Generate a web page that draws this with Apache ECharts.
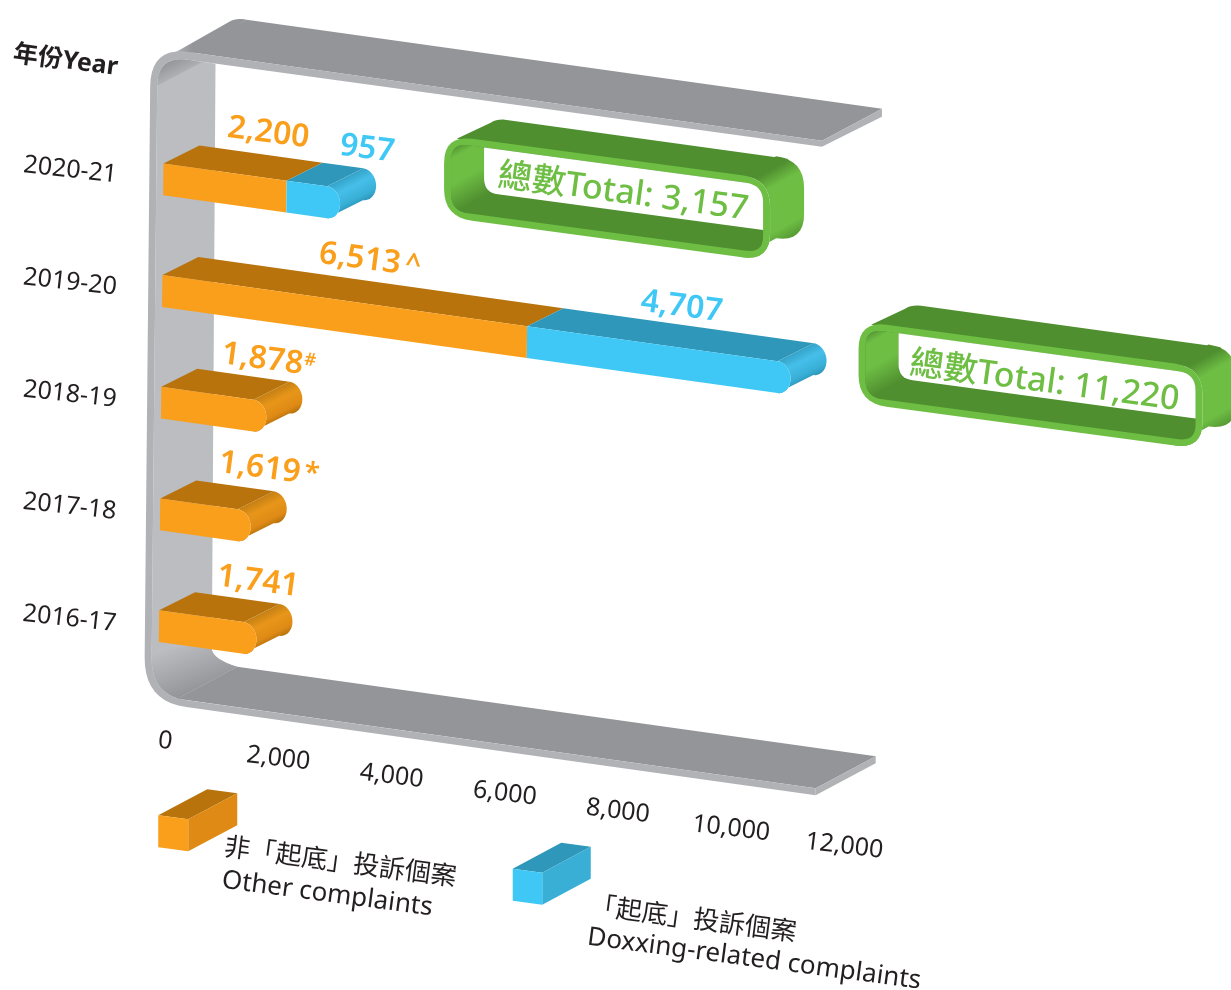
<!DOCTYPE html>
<html>
<head>
<meta charset="utf-8">
<title>Complaints by year</title>
<style>
  html, body { margin: 0; padding: 0; background: #fff; }
  #chart { width: 1231px; height: 990px; }
</style>
<script src="https://cdn.jsdelivr.net/npm/echarts@6/dist/echarts.min.js"></script>
</head>
<body>
<div id="chart"></div>
<script>
// Chart values
const years = ['2020-21', '2019-20', '2018-19', '2017-18', '2016-17'];
const otherComplaints = [2200, 6513, 1878, 1619, 1741];
const doxxingComplaints = [957, 4707, null, null, null];
const yearTotals = [3157, 11220];
const otherNotes = ['', '^', '#', '*', ''];
const tickValues = [0, 2000, 4000, 6000, 8000, 10000, 12000];
const yearHeading = '年份Year';
const totalPrefix = '總數Total: ';
const otherLegend = ['非「起底」投訴個案', 'Other complaints'];
const doxxingLegend = ['「起底」投訴個案', 'Doxxing-related complaints'];

// Palette
const ORANGE = { front: '#FA9F1C', top: '#B8730D', side: '#DE8A15', capMid: '#E8961A', capEdge: '#C07C12' };
const BLUE = { front: '#3FC8F6', top: '#2E97BA', side: '#39AFD6', capMid: '#45BFEA', capEdge: '#349FC4' };
const GREY = { face: '#939598', edge: '#B1B2B6', wall: '#BBBDC1', dark: '#96979A' };
const GREEN = { light: '#6EBE44', dark: '#4F8F2F' };
const INK = '#231F20';
const FONT = '"Noto Sans","Noto Sans CJK TC",sans-serif';

// Oblique view: every plotted point is sheared from the flat cartesian grid
const SHEAR_Y = 0.14;
const SHEAR_X = -0.00967;
const TEXT_ANGLE = -0.132;
const BAR_HALF = 15.9;
const BAR_DEPTH = [36, -18];
const CAP_RX = 13;

const add = (p, q) => [p[0] + q[0], p[1] + q[1]];
const along = (p, n) => [p[0] + n, p[1] + n * SHEAR_Y];
const down = (p, n) => [p[0] + n * SHEAR_X, p[1] + n];

function project(api, value, row) {
  const o = api.coord([0, 0]);
  const p = api.coord([value, row]);
  return [p[0] + SHEAR_X * (p[1] - o[1]), p[1] + SHEAR_Y * (p[0] - o[0])];
}

function curve(a, c, b, n) {
  const pts = [];
  const steps = n || 10;
  for (let i = 0; i <= steps; i++) {
    const t = i / steps, s = 1 - t;
    pts.push([s * s * a[0] + 2 * s * t * c[0] + t * t * b[0],
              s * s * a[1] + 2 * s * t * c[1] + t * t * b[1]]);
  }
  return pts;
}

const poly = (points, fill) => ({ type: 'polygon', shape: { points }, style: { fill } });
const grad = (a, b, stops) => new echarts.graphic.LinearGradient(
  a[0], a[1], b[0], b[1],
  stops.map(s => ({ offset: s[0], color: s[1] })), true);

function label(text, p, size, fill, opts) {
  const o = opts || {};
  return {
    type: 'text', x: p[0], y: p[1], rotation: o.rotation === undefined ? TEXT_ANGLE : o.rotation,
    style: {
      text, fill, fontSize: size, fontFamily: FONT, fontWeight: o.weight || 400,
      align: 'center', verticalAlign: 'middle'
    }
  };
}

// One stretch of a bar, with a rounded end when it is the last one in its row
function barPiece(api, from, to, row, colors, rounded) {
  const start = project(api, from, row);
  const end = project(api, to, row);
  const topStart = down(start, -BAR_HALF);
  const botStart = down(start, BAR_HALF);
  const parts = [];
  if (!rounded) {
    const topEnd = down(end, -BAR_HALF);
    const botEnd = down(end, BAR_HALF);
    parts.push(poly([topStart, add(topStart, BAR_DEPTH), add(topEnd, BAR_DEPTH), topEnd], colors.top));
    parts.push(poly([topStart, topEnd, botEnd, botStart], colors.front));
    return parts;
  }
  const centre = along(end, -CAP_RX);
  const arc = [];
  for (let i = 0; i <= 24; i++) {
    const a = -Math.PI / 2 + Math.PI * i / 24;
    const dx = CAP_RX * Math.cos(a);
    arc.push(down(along(centre, dx), BAR_HALF * Math.sin(a)));
  }
  const arcBack = arc.map(p => add(p, BAR_DEPTH)).reverse();
  const mid = add(centre, [BAR_DEPTH[0] / 2, BAR_DEPTH[1] / 2]);
  parts.push(poly([topStart, add(topStart, BAR_DEPTH), add(arc[0], BAR_DEPTH), arc[0]], colors.top));
  parts.push(poly(arc.concat(arcBack), grad(
    [mid[0] - 7, mid[1] - 14], [mid[0] + 7, mid[1] + 14],
    [[0, colors.capEdge], [0.4, colors.capMid], [0.8, colors.side], [1, colors.top]])));
  parts.push(poly([topStart].concat(arc, [botStart]), colors.front));
  return parts;
}

// Grey channel that holds the year rows
function renderFrame(params, api) {
  const D = [60, -32];
  const vL = -250, vR = 11740, rT = -1.17, rB = 4.69;
  const TL = project(api, vL, rT), TR = project(api, vR, rT);
  const BL = project(api, vL, rB), BR = project(api, vR, rB);
  const t = 7, tTop = 8;
  const ITL = down(along(TL, t), tTop), IBL = down(along(BL, t), -t);
  const ITR = down(TR, 6), IBR = down(BR, -t);
  const r2 = 30;
  const children = [];

  // Upper wall seen from above
  const a = along(TL, 21), b = along(TL, 36);
  children.push(poly([b, add(b, D), add(TR, D), TR], GREY.face));
  children.push(poly(
    [down(a, 5)].concat(curve(add(a, [60, -29]), add(along(TL, 29), [60, -33]), add(b, D), 6), [down(b, 5)]),
    grad(add(a, [0, -8]), add(b, [6, -6]), [[0, '#B8B9BD'], [1, GREY.face]])));

  // Inner face of the left wall
  const wallTop = down(along(TL, 65), 8);
  const wallLow = down(along(BL, 67), -61);
  const bend = add(BL, [69, -42]);
  const backStart = add(down(along(BL, 33), -t), D);
  const floorFront = down(along(BL, 33), -t);
  const innerTopArc = curve(down(ITL, r2), ITL, along(ITL, r2));
  const innerBotArc = curve(along(IBL, r2 + 4), IBL, down(IBL, -r2 - 8));
  children.push(poly(
    innerTopArc.concat([wallTop, wallLow], curve(wallLow, bend, backStart, 8), [floorFront], innerBotArc),
    GREY.wall));

  // Shaded inner corners
  children.push(poly(
    innerTopArc.concat([down(along(ITL, r2 + 15), 0)]),
    grad(add(ITL, [22, 2]), add(ITL, [32, 22]), [[0, GREY.dark], [1, GREY.wall]])));
  const slopeStart = down(IBL, -41);
  const slopeEnd = [wallLow[0], wallLow[1] - 10];
  children.push(poly(
    [slopeStart, slopeEnd, wallLow].concat(curve(wallLow, bend, backStart, 8), [floorFront], innerBotArc.slice(0, -1)),
    grad(add(slopeStart, [16, -6]), add(floorFront, [8, -4]), [[0, GREY.wall], [1, GREY.face]])));

  // Lower wall
  children.push(poly([floorFront, backStart, add(IBR, D), IBR], GREY.face));

  // Cut edge running round the whole channel
  const outer = [TR].concat(
    curve(along(TL, 38), TL, down(TL, 40)),
    curve(down(BL, -44), BL, along(BL, 42)),
    [BR]);
  const inner = [IBR].concat(
    curve(along(IBL, r2 + 4), IBL, down(IBL, -r2 - 8)),
    curve(down(ITL, r2), ITL, along(ITL, r2)),
    [ITR]);
  children.push(poly(outer.concat(inner), GREY.edge));
  children.push(poly([TR, add(TR, D), add(ITR, [60, -30]), ITR], GREY.edge));
  children.push(poly([IBR, add(IBR, D), add(BR, D), BR], GREY.edge));

  return { type: 'group', children };
}

function renderOther(params, api) {
  const row = api.value(1);
  const i = params.dataIndex;
  return {
    type: 'group',
    children: barPiece(api, 0, api.value(0), row, ORANGE, doxxingComplaints[i] == null)
  };
}

function renderDoxxing(params, api) {
  return {
    type: 'group',
    children: barPiece(api, api.value(0), api.value(1), api.value(2), BLUE, true)
  };
}

// Value labels sit where they read best above each bar
const otherLabelOffset = [[-18, -63.5], [-167, -83], [-4, -58], [9, -59], [1.5, -58]];
const doxxingLabelOffset = [[27, -55], [-109, -72]];
const noteStyle = { '^': { at: [53, 6], size: 28 }, '#': { at: [48, 1], size: 18 }, '*': { at: [52, 6], size: 28 } };
const fmt = n => n.toLocaleString('en-US');

function renderOtherLabel(params, api) {
  const v = api.value(0), row = api.value(1), i = params.dataIndex;
  const base = add(project(api, v, row), otherLabelOffset[i]);
  const children = [label(fmt(v), base, 32, ORANGE.front, { weight: 600 })];
  const note = otherNotes[i];
  if (note) {
    const s = noteStyle[note];
    children.push(label(note, add(base, s.at), s.size, ORANGE.front, { weight: 600 }));
  }
  return { type: 'group', children };
}

function renderDoxxingLabel(params, api) {
  const v = api.value(1), i = params.dataIndex;
  const base = add(project(api, v, api.value(2)), doxxingLabelOffset[i]);
  return label(fmt(v - api.value(0)), base, 32, BLUE.front, { weight: 600 });
}

// Rounded rectangle laid out along the sheared axes
function roundedBox(o, w, h, r) {
  const pt = (x, y) => [o[0] + x, o[1] + y + x * 0.135];
  return {
    pt,
    points: [].concat(
      curve(pt(0, r), pt(0, 0), pt(r, 0), 8),
      curve(pt(w - r, 0), pt(w, 0), pt(w, r), 8),
      curve(pt(w, h - r), pt(w, h), pt(w - r, h), 8),
      curve(pt(r, h), pt(0, h), pt(0, h - r), 8))
  };
}

const totalBox = [
  { offset: [104, -69], width: 326, height: 82, text: [6, -5] },
  { offset: [68, -58], width: 344, height: 82, text: [4, -3] }
];

function renderTotal(params, api) {
  const total = api.value(0), row = api.value(1), i = params.dataIndex;
  const cfg = totalBox[i];
  const O = add(project(api, total, row), cfg.offset);
  const W = cfg.width, H = cfg.height, D = [34, -19];
  const R = 28, T = 7;
  const out = roundedBox(O, W, H, R);
  const inO = [O[0] + T, O[1] + T + T * 0.135];
  const iw = W - 2 * T, ih = H - 2 * T, ir = 17;
  const ins = roundedBox(inO, iw, ih, ir);
  const children = [];

  // Outer shell
  const A = out.pt(R * 0.45, 2), B = out.pt(W - R * 0.55, 1);
  const A2 = out.pt(R * 0.45 + 16, 0);
  children.push(poly(
    [A].concat(curve(add(A, [34, -16]), add(out.pt(R * 0.45 + 6, 0), D), add(A2, D), 5), [add(B, D), B]),
    GREEN.dark));
  const sideFront = [].concat(
    curve(out.pt(W - R, 0), out.pt(W, 0), out.pt(W, R), 8),
    curve(out.pt(W, H - R), out.pt(W, H), out.pt(W - R, H), 8));
  const sideBack = sideFront.map(p => add(p, D)).reverse();
  const sideA = out.pt(W - 10, -2);
  const sideB = add(sideA, [36, 64]);
  children.push(poly(sideFront.concat(sideBack), grad(sideA, sideB, [
    [0, GREEN.dark], [0.22, GREEN.light], [0.76, GREEN.light], [1, GREEN.dark]])));

  // Front ring and the hollow behind it
  children.push(poly(out.points, GREEN.light));
  children.push(poly(ins.points, GREEN.dark));

  // Left inner wall
  const wx = 33, drop = 23;
  const wallPts = [].concat(
    curve(ins.pt(0, ir), ins.pt(0, 0), ins.pt(ir, 0), 8),
    [ins.pt(wx, 0), ins.pt(wx, ih - drop - 8), ins.pt(wx + 8, ih - drop)],
    [ins.pt(ir, ih)],
    curve(ins.pt(ir, ih), ins.pt(0, ih), ins.pt(0, ih - ir), 8));
  const wallA = ins.pt(0, 4);
  const wallB = add(wallA, [ih * 0.42, ih * 0.76]);
  children.push(poly(wallPts, grad(wallA, wallB, [
    [0, GREEN.dark], [0.18, GREEN.light], [0.56, GREEN.light], [1, GREEN.dark]])));

  // Far opening of the tube
  children.push(poly([].concat(
    [ins.pt(wx, 0)],
    curve(ins.pt(iw - ir, 0), ins.pt(iw, 0), ins.pt(iw, ir), 8),
    [ins.pt(iw, ih - drop)],
    curve(ins.pt(wx + 14, ih - drop), ins.pt(wx, ih - drop), ins.pt(wx, ih - drop - 14), 8)
  ), '#FFFFFF'));

  const mid = add(O, [W / 2 + cfg.text[0] + 10, H / 2 + W / 2 * 0.135 + cfg.text[1]]);
  children.push(label(totalPrefix + fmt(total), mid, 34, GREEN.light, { weight: 500, rotation: -0.135 }));
  return { type: 'group', children };
}

// Year names and value ticks are lettered along the same oblique lines
function renderYearLabel(params, api) {
  const row = api.value(0);
  const p = add(project(api, -1680, row), [1 + 0.9 * row, 4 + row * 0.5]);
  return label(years[row], p, 25, INK, { rotation: -0.11 });
}

function renderTick(params, api) {
  const v = api.value(0);
  const p = project(api, v, 4.69);
  const f = v / 12000;
  return label(fmt(v), add(p, [7 + 7 * f, 38 + 11 * f]), 25, INK, { rotation: -0.12 });
}

function legendBox(front, depth, wide, tall, colors) {
  const TL = front, TR = [TL[0] + wide, TL[1] + wide * 0.135];
  const BR = [TR[0], TR[1] + tall], BL = [TL[0], TL[1] + tall];
  return [
    poly([TL, add(TL, depth), add(TR, depth), TR], colors.top),
    poly([TR, add(TR, depth), add(BR, depth), BR], colors.side),
    poly([TL, TR, BR, BL], colors.front)
  ];
}

function renderLegend(params, api) {
  const a = project(api, 0, 4.69);
  const children = [].concat(
    legendBox(add(a, [0, 112]), [49, -26], 30, 32, ORANGE),
    legendBox(add(a, [354.5, 165.5]), [48.5, -26], 29.5, 32, BLUE),
    [label(otherLegend[0], add(a, [182, 160]), 26, INK),
     label(otherLegend[1], add(a, [169, 191]), 26, INK),
     label(doxxingLegend[0], add(a, [535, 217]), 26, INK),
     label(doxxingLegend[1], add(a, [596, 256]), 26, INK)]);
  return { type: 'group', children };
}

function renderHeading(params, api) {
  const p = add(project(api, -1750, -1.07), [-1, 15]);
  return label(yearHeading, p, 25, INK, { weight: 700 });
}

const customSeries = (name, z, data, renderItem, encodeDims) => ({
  type: 'custom', name, z, data, renderItem, animation: false, silent: true, clip: false,
  encode: encodeDims
});

const rows = years.map((_, i) => i);

const chart = echarts.init(document.getElementById('chart'), null, { renderer: 'canvas' });
chart.setOption({
  animation: false,
  backgroundColor: '#fff',
  grid: { left: 163.3, top: 123.45, width: 672, height: 558.5 },
  xAxis: { type: 'value', min: 0, max: 12000, interval: 2000, show: false },
  yAxis: { type: 'value', min: -0.5, max: 4.5, inverse: true, show: false },
  series: [
    customSeries('frame', 1, [[0, 0]], renderFrame, { x: 0, y: 1 }),
    customSeries('Other complaints', 2, rows.map(i => [otherComplaints[i], i]), renderOther, { x: 0, y: 1 }),
    customSeries('Doxxing-related complaints', 3,
      rows.filter(i => doxxingComplaints[i] != null)
          .map(i => [otherComplaints[i], otherComplaints[i] + doxxingComplaints[i], i]),
      renderDoxxing, { x: [0, 1], y: 2 }),
    customSeries('totals', 4, yearTotals.map((v, i) => [v, i]), renderTotal, { x: 0, y: 1 }),
    customSeries('other values', 5, rows.map(i => [otherComplaints[i], i]), renderOtherLabel, { x: 0, y: 1 }),
    customSeries('doxxing values', 5,
      rows.filter(i => doxxingComplaints[i] != null)
          .map(i => [otherComplaints[i], otherComplaints[i] + doxxingComplaints[i], i]),
      renderDoxxingLabel, { x: [0, 1], y: 2 }),
    customSeries('years', 5, rows.map(i => [i, i]), renderYearLabel, { x: 1, y: 0 }),
    customSeries('ticks', 5, tickValues.map(v => [v, 4.5]), renderTick, { x: 0, y: 1 }),
    customSeries('legend', 5, [[0, 0]], renderLegend, { x: 0, y: 1 }),
    customSeries('heading', 5, [[0, 0]], renderHeading, { x: 0, y: 1 })
  ]
});
</script>
</body>
</html>
